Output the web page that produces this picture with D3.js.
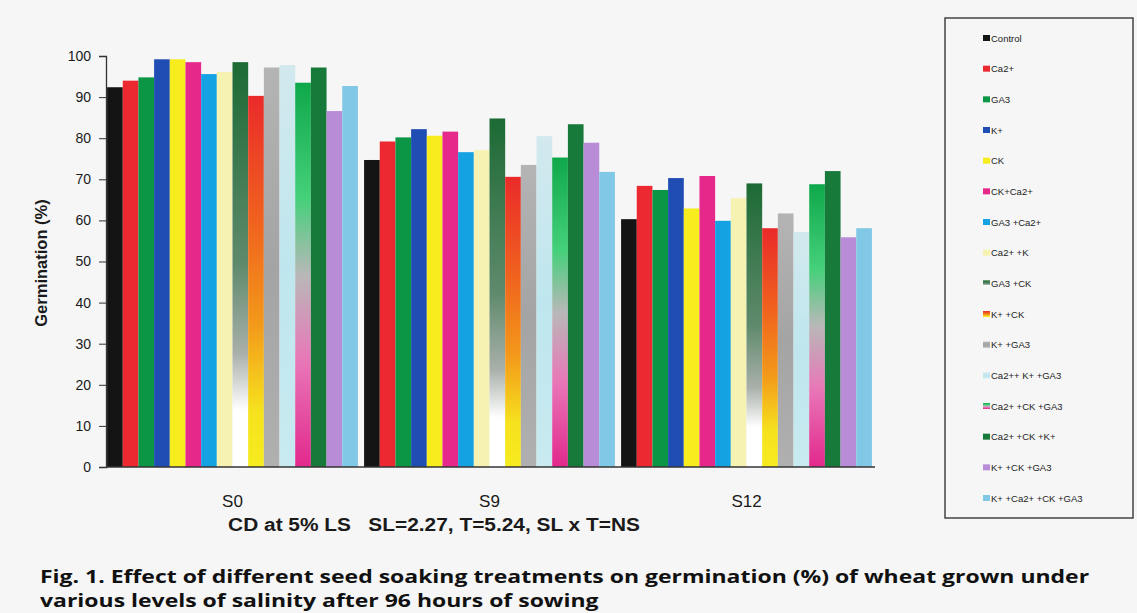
<!DOCTYPE html>
<html><head><meta charset="utf-8">
<script src="https://cdn.jsdelivr.net/npm/d3@7"></script>
<style>
html,body{margin:0;padding:0;background:#f6f6f6;}
svg{display:block;}
</style></head>
<body>
<svg id="chart" width="1137" height="613"></svg>
<script>
const categories = ["S0", "S9", "S12"];
const treatments = ["Control", "Ca2+", "GA3", "K+", "CK", "CK+Ca2+", "GA3 +Ca2+", "Ca2+ +K",
  "GA3 +CK", "K+ +CK", "K+ +GA3", "Ca2++ K+ +GA3", "Ca2+ +CK +GA3", "Ca2+ +CK +K+", "K+ +CK +GA3", "K+ +Ca2+ +CK +GA3"];
const s0Values  = [92.4, 94.0, 94.8, 99.2, 99.2, 98.5, 95.6, 96.1, 98.5, 90.3, 97.2, 97.8, 93.5, 97.2, 86.6, 92.7];
const s9Values  = [74.7, 79.2, 80.2, 82.2, 80.6, 81.6, 76.6, 77.1, 84.8, 70.6, 73.5, 80.5, 75.3, 83.4, 78.9, 71.8];
const s12Values = [60.3, 68.4, 67.4, 70.3, 62.9, 70.8, 59.9, 65.4, 69.0, 58.1, 61.7, 57.2, 68.8, 72.0, 55.9, 58.1];
const yTicks = [0, 10, 20, 30, 40, 50, 60, 70, 80, 90, 100];
const yTitle = "Germination (%)";
const xNote = "CD at 5% LS   SL=2.27, T=5.24, SL x T=NS";
const caption1 = "Fig. 1. Effect of different seed soaking treatments on germination (%) of wheat grown under";
const caption2 = "various levels of salinity after 96 hours of sowing";

const valuesByGroup = [s0Values, s9Values, s12Values];

// fills: solid colours or gradient stop lists (top -> bottom)
const fills = [
  "#141414", "#ec2830", "#0b9646", "#1f4db3", "#f6ec1e", "#e6288a", "#14a2e2", "#f6f2b2",
  [["0", "#1c6a34"], ["0.5", "#5f8a6c"], ["0.72", "#a9b0aa"], ["0.86", "#ffffff"], ["1", "#ffffff"]],
  [["0", "#ea2a2a"], ["0.35", "#f0641e"], ["0.62", "#f39a1a"], ["0.85", "#f6e21e"], ["1", "#f6ec1e"]],
  [["0", "#b4b4b4"], ["0.5", "#a4a4a4"], ["1", "#b0b0b0"]],
  [["0", "#d2e9ee"], ["0.5", "#bfe6ee"], ["1", "#c8eaf0"]],
  [["0", "#0ea84a"], ["0.3", "#45d07a"], ["0.5", "#b8b8b8"], ["0.72", "#e878b8"], ["1", "#e2288c"]],
  "#187a3a", "#b98cd8", "#80c8e6"
];

const svg = d3.select("#chart");
const defs = svg.append("defs");
const fillOf = fills.map((f, i) => {
  if (typeof f === "string") return f;
  const id = "grad" + i;
  const g = defs.append("linearGradient").attr("id", id)
    .attr("x1", 0).attr("y1", 0).attr("x2", 0).attr("y2", 1);
  f.forEach(s => g.append("stop").attr("offset", s[0]).attr("stop-color", s[1]));
  return "url(#" + id + ")";
});

const mLeft = 106, mRight = 875, mTop = 56, mBottom = 467;
const x0 = d3.scaleBand().domain(categories).range([104, 875]).paddingInner(0.024).paddingOuter(0.012);
const x1 = d3.scaleBand().domain(d3.range(treatments.length)).range([0, x0.bandwidth()]).padding(0);
const y = d3.scaleLinear().domain([0, 100]).range([mBottom, mTop]);

// bars
const groups = svg.append("g").selectAll("g").data(categories).join("g")
  .attr("transform", c => `translate(${x0(c)},0)`);
groups.selectAll("rect").data((c, gi) => valuesByGroup[gi].map((v, i) => ({v, i})))
  .join("rect")
  .attr("x", d => x1(d.i))
  .attr("width", x1.bandwidth())
  .attr("y", d => y(d.v))
  .attr("height", d => y(0) - y(d.v))
  .attr("fill", d => fillOf[d.i]);

// y axis
const yAxis = svg.append("g").attr("transform", `translate(${mLeft},0)`)
  .call(d3.axisLeft(y).tickValues(yTicks).tickSize(7).tickPadding(8));
yAxis.select(".domain").attr("stroke", "#333").attr("stroke-width", 1.3);
yAxis.selectAll(".tick line").attr("stroke", "#333");
yAxis.selectAll("text").attr("font-family", "Liberation Sans, Arial, sans-serif")
  .attr("font-size", 14).attr("fill", "#1a1a1a");

// x axis
const xAxis = svg.append("g").attr("transform", `translate(0,${mBottom})`)
  .call(d3.axisBottom(x0).tickSize(0).tickPadding(28));
xAxis.select(".domain").attr("stroke", "#333").attr("stroke-width", 1.3)
  .attr("d", `M${mLeft},0H${mRight}`);
xAxis.selectAll("text").attr("font-family", "Liberation Sans, Arial, sans-serif")
  .attr("font-size", 17).attr("fill", "#1a1a1a");

// helper: fit text horizontally to a given width by x-scaling
function fitWidth(sel, x, yb, width) {
  const w = sel.node().getComputedTextLength();
  const sx = width / w;
  sel.attr("x", 0).attr("y", 0)
    .attr("transform", `translate(${x},${yb}) scale(${sx},1)`);
  return sx;
}

// titles
svg.append("text").attr("transform", "translate(47,263) rotate(-90)")
  .attr("text-anchor", "middle").attr("font-family", "Liberation Sans, Arial, sans-serif")
  .attr("font-weight", "bold").attr("font-size", 16.5).attr("fill", "#1a1a1a").text(yTitle);
const note = svg.append("text").attr("text-anchor", "middle")
  .attr("font-family", "Liberation Sans, Arial, sans-serif")
  .attr("font-weight", "bold").attr("font-size", 17.5).attr("fill", "#1a1a1a")
  .attr("xml:space", "preserve").style("white-space", "pre").text(xNote);
fitWidth(note, 434, 531, 412);

// legend
svg.append("rect").attr("x", 945).attr("y", 18).attr("width", 188).attr("height", 500)
  .attr("fill", "#f6f6f6").attr("stroke", "#444").attr("stroke-width", 1.5);
const ly = d3.scalePoint().domain(d3.range(treatments.length)).range([38, 498]);
const leg = svg.append("g").selectAll("g").data(treatments).join("g")
  .attr("transform", (d, i) => `translate(983,${ly(i)})`);
leg.append("rect").attr("x", 0).attr("y", -3).attr("width", 7).attr("height", 6)
  .attr("fill", (d, i) => fillOf[i]);
leg.append("text").attr("x", 8).attr("y", 3.5)
  .attr("font-family", "Liberation Sans, Arial, sans-serif").attr("font-size", 9.5)
  .attr("fill", "#222").text(d => d);

// caption
const c1 = svg.append("text")
  .attr("font-family", "Open Sans, sans-serif").attr("font-weight", "bold")
  .attr("font-size", 17.5).attr("fill", "#111").text(caption1);
const sx = fitWidth(c1, 40, 583, 1050);
svg.append("text").attr("transform", `translate(40,607) scale(${sx},1)`)
  .attr("font-family", "Open Sans, sans-serif").attr("font-weight", "bold")
  .attr("font-size", 17.5).attr("fill", "#111").text(caption2);
</script>
</body></html>
